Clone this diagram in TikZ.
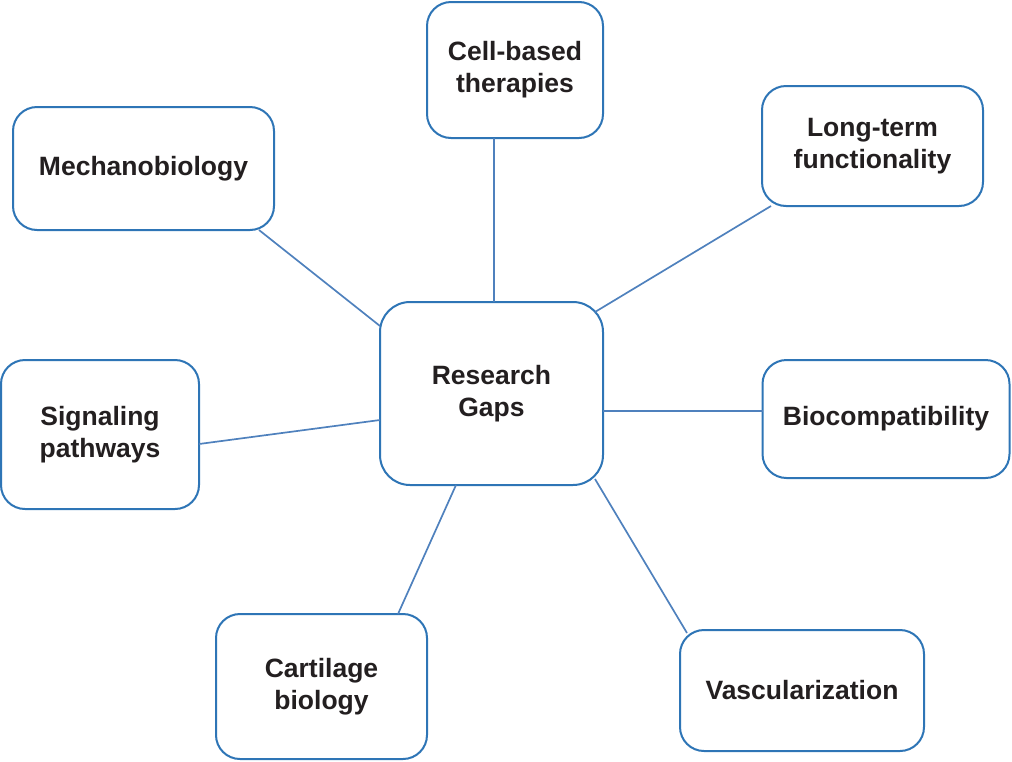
\documentclass[tikz,border=0pt]{standalone}
\usepackage{fontspec}
\setmainfont{Liberation Sans}
\usetikzlibrary{calc}
\definecolor{boxblue}{HTML}{2E75B6}
\definecolor{linkblue}{HTML}{4F81BD}
\definecolor{txt}{HTML}{231F20}
\tikzset{
  topic/.style={draw=boxblue, line width=2pt, rounded corners=24pt, fill=white,
    inner sep=0pt, outer sep=0pt, align=center, text=txt,
    font=\fontsize{26.5}{32}\selectfont\bfseries},
  link/.style={draw=linkblue, line width=1.7pt}
}
\begin{document}
\begin{tikzpicture}[x=1pt,y=-1pt]
\useasboundingbox (0,0) rectangle (1012,761);
\node[topic, rounded corners=30pt, minimum width=223pt, minimum height=183pt] (gaps) at (491.5,393.5) {Research\\Gaps};
\node[topic, minimum width=176pt, minimum height=136pt] (cell) at (515,70) {Cell-based\\therapies};
\node[topic, minimum width=261pt, minimum height=123pt] (mech) at (143.5,168.5) {Mechanobiology};
\node[topic, minimum width=221pt, minimum height=120pt] (long) at (872.5,146) {Long-term\\functionality};
\node[topic, minimum width=198pt, minimum height=149pt] (sig) at (100,434.5) {Signaling\\pathways};
\node[topic, minimum width=247pt, minimum height=118pt] (bio) at (886,419) {Biocompatibility};
\node[topic, minimum width=211pt, minimum height=145pt] (cart) at (321.5,686.5) {Cartilage\\biology};
\node[topic, minimum width=244pt, minimum height=121pt] (vasc) at (802,690.5) {Vascularization};
\begin{scope}[on background layer/.try]
\end{scope}
\draw[link] ($(cell.south)+(-21,0)$) -- ($(gaps.north)+(2.5,0)$);
\draw[link] ($(mech.south east)+(-15,0)$) -- ($(gaps.north west)+(0,24)$);
\draw[link] ($(long.south west)+(9,0)$) -- ($(gaps.north east)+(-8,10)$);
\draw[link] ($(sig.east)+(0,9.5)$) -- ($(gaps.west)+(0,26.5)$);
\draw[link] ($(gaps.east)+(0,17.5)$) -- ($(bio.west)+(0,-8)$);
\draw[link] ($(gaps.south)+(-35.5,0)$) -- ($(cart.north)+(76.5,0)$);
\draw[link] ($(gaps.south east)+(-8,-6)$) -- ($(vasc.north west)+(7,3)$);
\end{tikzpicture}
\end{document}
